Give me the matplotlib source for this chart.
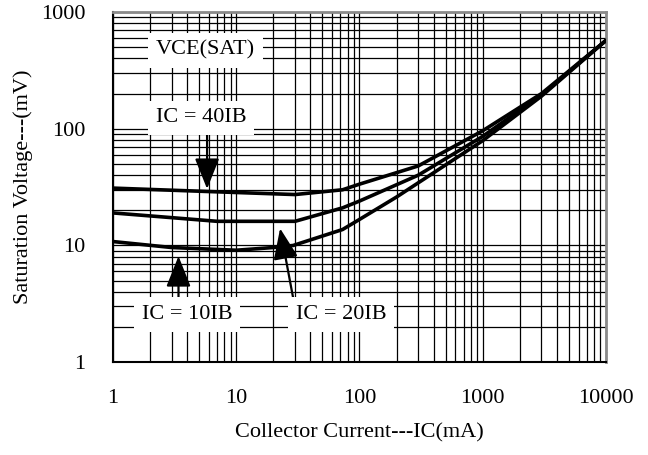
import matplotlib.pyplot as plt
from matplotlib.ticker import LogLocator, NullFormatter

plt.rcParams['font.family'] = ['Liberation Serif', 'DejaVu Serif']

# saturation voltage vs collector current, one curve per forced beta
ic_40 = [1, 5.8, 30, 73, 100, 300, 1000, 3000, 10000]
vce_40 = [31, 29, 27.3, 30, 33.5, 48, 96, 200, 570]

ic_20 = [1, 7, 30, 73, 100, 300, 1000, 3000, 10000]
vce_20 = [19, 16.1, 16.1, 21, 24, 40, 86, 195, 570]

ic_10 = [1, 3, 10, 20, 29, 73, 100, 200, 1000, 3000, 10000]
vce_10 = [10.8, 9.6, 9.1, 9.6, 10, 13.7, 16.7, 26, 79, 190, 570]

x_ticks = [1, 10, 100, 1000, 10000]
y_ticks = [1, 10, 100, 1000]

fig = plt.figure(figsize=(6.48, 4.55), dpi=100)
ax = fig.add_subplot(111)
fig.subplots_adjust(left=0.1744, right=0.935, top=0.9736, bottom=0.204)

ax.set_xscale('log')
ax.set_yscale('log')
ax.set_xlim(1, 10000)
ax.set_ylim(1, 1000)

ax.xaxis.set_minor_locator(LogLocator(base=10, subs=range(2, 10)))
ax.yaxis.set_minor_locator(LogLocator(base=10, subs=range(2, 10)))
ax.xaxis.set_minor_formatter(NullFormatter())
ax.yaxis.set_minor_formatter(NullFormatter())
ax.set_xticks(x_ticks)
ax.set_yticks(y_ticks)
ax.set_xticklabels([str(v) for v in x_ticks])
ax.set_yticklabels([str(v) for v in y_ticks])
ax.tick_params(which='both', length=0)
ax.tick_params(axis='x', labelsize=16, pad=19)
ax.tick_params(axis='y', labelsize=16, pad=20)

ax.grid(which='both', color='black', lw=0.9)
ax.set_axisbelow(True)

for side in ['left', 'bottom']:
    ax.spines[side].set_color('black')
    ax.spines[side].set_linewidth(1.5)
for side in ['top', 'right']:
    ax.spines[side].set_color('#8a8a8a')
    ax.spines[side].set_linewidth(2)

for x, y in [(ic_40, vce_40), (ic_20, vce_20), (ic_10, vce_10)]:
    ax.plot(x, y, color='black', lw=2.6, solid_capstyle='round', zorder=3)

box = dict(boxstyle='square,pad=0.35', fc='white', ec='none')
ax.text(5.6, 470, 'VCE(SAT)', fontsize=16, ha='center', va='center', bbox=box, zorder=4)

arrow = dict(arrowstyle='-|>,head_width=0.38,head_length=0.95', color='black',
             lw=1.6, mutation_scale=20, shrinkA=0, shrinkB=0)

ax.annotate('', xy=(5.8, 30.5), xytext=(5.8, 89), arrowprops=arrow, zorder=4)
ax.text(5.2, 124, 'IC = 40IB', fontsize=16, ha='center', va='center', bbox=box, zorder=4)

ax.annotate('', xy=(3.4, 8.1), xytext=(3.4, 3.6), arrowprops=arrow, zorder=4)
ax.text(4.0, 2.57, 'IC = 10IB', fontsize=16, ha='center', va='center', bbox=box, zorder=4)

ax.annotate('', xy=(22.7, 14.0), xytext=(28.9, 3.6), arrowprops=arrow, zorder=4)
ax.text(71, 2.57, 'IC = 20IB', fontsize=16, ha='center', va='center', bbox=box, zorder=4)

ax.set_xlabel('Collector Current---IC(mA)', fontsize=16)
ax.set_ylabel('Saturation Voltage---(mV)', fontsize=16)
ax.xaxis.set_label_coords(0.5, -0.175)
ax.yaxis.set_label_coords(-0.162, 0.5)

fig.savefig('out.png', dpi=100)
